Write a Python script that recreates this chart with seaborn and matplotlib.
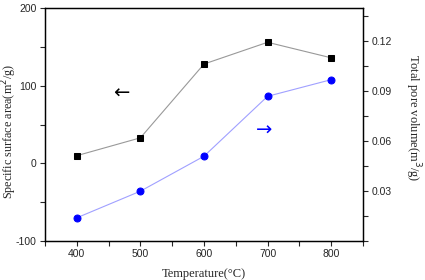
import pandas as pd
import matplotlib.pyplot as plt
import seaborn as sns
from matplotlib.ticker import MultipleLocator

# data
temperature = [400, 500, 600, 700, 800]
surface_area = [10, 33, 128, 156, 136]
pore_volume = [0.014, 0.030, 0.051, 0.087, 0.097]

df = pd.DataFrame({"Temperature": temperature,
                   "Surface": surface_area,
                   "Pore": pore_volume})

sns.set_style("ticks")
plt.rcParams["font.family"] = ["Liberation Sans", "DejaVu Sans"]
plt.rcParams["axes.unicode_minus"] = False

fig, ax = plt.subplots(figsize=(4.25, 2.8), dpi=100)
ax2 = ax.twinx()

sns.lineplot(data=df, x="Temperature", y="Surface", ax=ax, color="#999999",
             linewidth=0.8, marker="s", markersize=4.5, markerfacecolor="black",
             markeredgecolor="black")
sns.lineplot(data=df, x="Temperature", y="Pore", ax=ax2, color="#a0a0ff",
             linewidth=0.8, marker="o", markersize=5, markerfacecolor="#0000ff",
             markeredgecolor="#0000ff")

ax.set_xlim(350, 850)
ax.set_ylim(-100, 200)
ax2.set_ylim(0, 0.14)
ax.set_xticks([400, 500, 600, 700, 800])
ax.xaxis.set_minor_locator(MultipleLocator(50))
ax.set_yticks([-100, 0, 100, 200])
ax.yaxis.set_minor_locator(MultipleLocator(50))
ax2.set_yticks([0.03, 0.06, 0.09, 0.12])
ax2.yaxis.set_minor_locator(MultipleLocator(0.015))

for a in (ax, ax2):
    a.tick_params(which="both", direction="out", labelsize=7.5, width=0.8,
                  length=3.5, pad=2.5)
    for s in a.spines.values():
        s.set_linewidth(0.9)
        s.set_color("black")

serif = ["Liberation Serif", "DejaVu Serif"]
ax.set_xlabel("Temperature(\u00b0C)", family=serif, fontsize=9, labelpad=6)
ax.set_ylabel("Specific surface area(m$^2$/g)", family=serif, fontsize=8.7)
ax.yaxis.set_label_coords(-0.081, 0.472)
ax2.set_ylabel("Total pore volume(m$^3$/g)", family=serif, fontsize=9,
               rotation=270, labelpad=22)
ax2.yaxis.label.set_y(0.528)

ax.text(470, 90, "\u2190", fontsize=14, color="black", ha="center", va="center",
        family=["DejaVu Sans"])
ax2.text(695, 0.0665, "\u2192", fontsize=14, color="#0000ff", ha="center",
         va="center", family=["DejaVu Sans"])

fig.subplots_adjust(left=0.106, right=0.854, top=0.971, bottom=0.139)
fig.savefig("out.png", dpi=100)
